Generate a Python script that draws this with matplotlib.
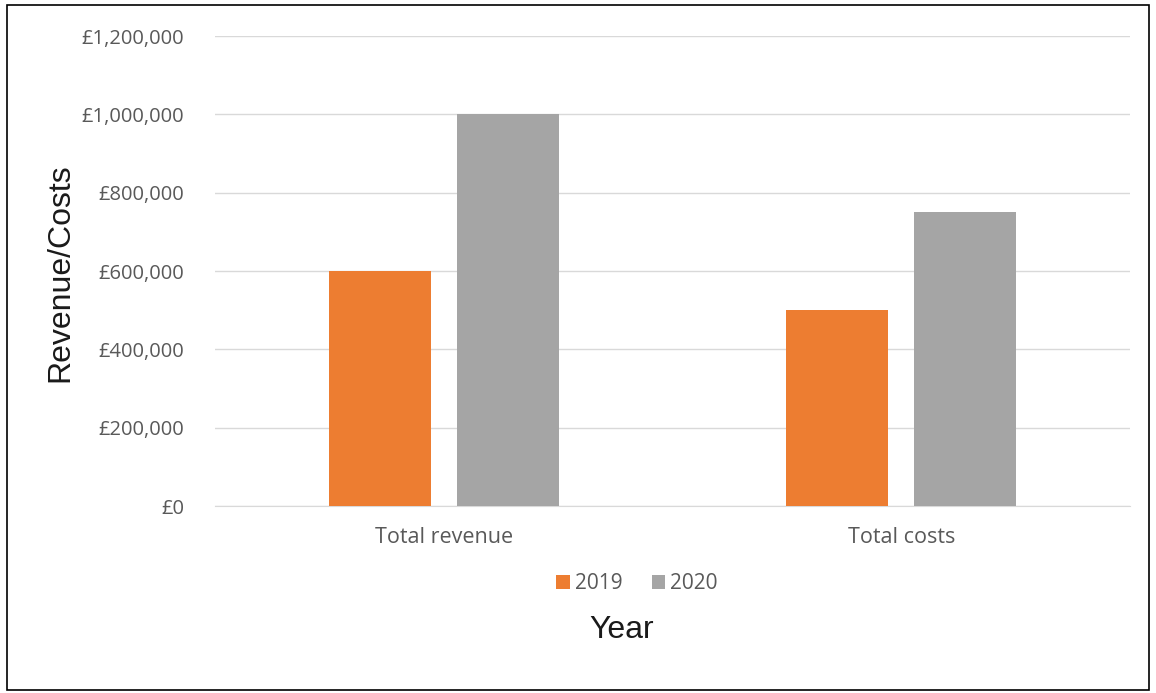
import matplotlib.pyplot as plt
import matplotlib.patches as mpatches
import numpy as np

# data
categories = ['Total revenue', 'Total costs']
years = ['2019', '2020']
values_2019 = [600000, 500000]
values_2020 = [1000000, 750000]
colors = ['#ED7D31', '#A5A5A5']

fig = plt.figure(figsize=(11.56, 6.93), dpi=100)
ax = fig.add_axes([0.186, 0.2698, 0.9775 - 0.186, 0.948 - 0.2698])

x = np.arange(len(categories))
w = 0.223
off = 0.14
ax.bar(x - off, values_2019, w, color=colors[0], label=years[0], zorder=3)
ax.bar(x + off, values_2020, w, color=colors[1], label=years[1], zorder=3)

ax.set_xlim(-0.5, 1.5)
ax.set_ylim(0, 1200000)
ax.set_yticks(np.arange(0, 1200001, 200000))
ax.yaxis.set_major_formatter(plt.FuncFormatter(lambda v, p: f'£{int(v):,}'))
ax.set_xticks(x)
ax.set_xticklabels(categories)
ax.grid(axis='y', color='#D9D9D9', linewidth=1, zorder=0)
for s in ['top', 'right', 'left']:
    ax.spines[s].set_visible(False)
ax.spines['bottom'].set_color('#D9D9D9')
ax.tick_params(length=0, labelcolor='#595959')
ax.tick_params(axis='y', pad=22, labelsize=14.5)
ax.tick_params(axis='x', pad=15, labelsize=15.5)
for lab in ax.get_xticklabels() + ax.get_yticklabels():
    lab.set_fontfamily('Open Sans')

fig.text(0.052, 0.607, 'Revenue/Costs', rotation=90, ha='center', va='center',
         fontsize=23, family='Liberation Sans', color='#1a1a1a')
fig.text(0.538, 0.091, 'Year', ha='center', va='center',
         fontsize=23, family='Liberation Sans', color='#1a1a1a')

leg = fig.legend(loc='center', bbox_to_anchor=(0.551, 0.158), ncol=2, frameon=False,
                 handlelength=0.65, handleheight=0.65, handletextpad=0.25,
                 columnspacing=1.4, prop={'family': 'Open Sans', 'size': 15})
for t in leg.get_texts():
    t.set_color('#595959')

# outer chart border
fig.patches.append(mpatches.Rectangle((0.006, 0.005), 0.988, 0.988, transform=fig.transFigure,
                                      fill=False, edgecolor='black', linewidth=1.2))

fig.savefig('out.png', dpi=100)
